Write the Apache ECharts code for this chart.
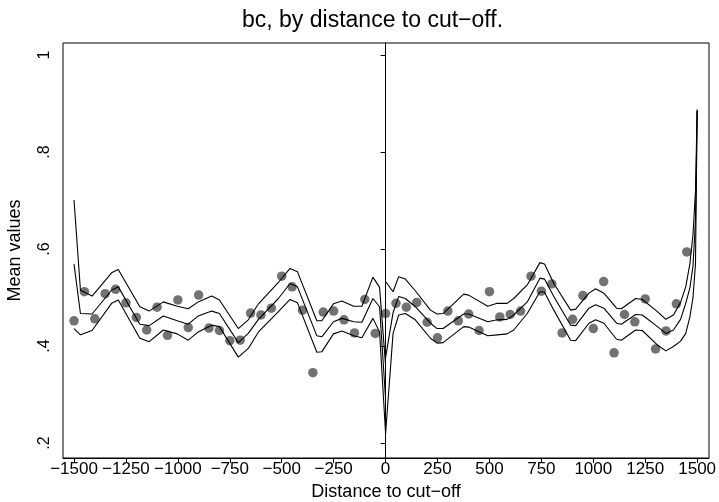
<!DOCTYPE html>
<html>
<head>
<meta charset="utf-8">
<script src="https://cdn.jsdelivr.net/npm/echarts@6/dist/echarts.min.js"></script>
<style>
html,body{margin:0;padding:0;background:#fff;}
#chart{width:719px;height:502px;}
</style>
</head>
<body>
<div id="chart"></div>
<script>
// ---- Data ----
const binX = [-1500,-1450,-1400,-1350,-1300,-1250,-1200,-1150,-1100,-1050,
  -1000,-950,-900,-850,-800,-750,-700,-650,-600,-550,
  -500,-450,-400,-350,-300,-250,-200,-150,-100,-50,
  0,
  50,100,150,200,250,300,350,400,450,500,
  550,600,650,700,750,800,850,900,950,1000,
  1050,1100,1150,1200,1250,1300,1350,1400,1450];
const binMeans = [0.452,0.512,0.456,0.508,0.517,0.489,0.459,0.433,0.480,0.422,
  0.495,0.438,0.505,0.437,0.432,0.411,0.412,0.468,0.464,0.478,
  0.544,0.522,0.474,0.345,0.470,0.472,0.454,0.427,0.496,0.426,
  0.467,
  0.488,0.480,0.490,0.449,0.417,0.472,0.452,0.466,0.432,0.512,
  0.460,0.465,0.472,0.544,0.513,0.528,0.427,0.455,0.504,0.436,
  0.533,0.386,0.465,0.450,0.497,0.394,0.431,0.487,0.594];

const fitXLeft = [-1500,-1469,-1413,-1319,-1287,-1183,-1138,-1070,-1003,-950,-902,-837,-800,-709,-661,-612,-516,-460,-424,-331,-307,-251,-210,-154,-114,-61,-29,0];
const upperLeft = [0.701,0.515,0.503,0.551,0.558,0.481,0.472,0.491,0.482,0.477,0.491,0.503,0.495,0.436,0.454,0.487,0.531,0.560,0.553,0.452,0.452,0.487,0.493,0.482,0.482,0.542,0.521,0.36];
const fitLeft = [0.569,0.467,0.466,0.515,0.522,0.445,0.442,0.462,0.452,0.445,0.462,0.472,0.467,0.407,0.426,0.455,0.498,0.529,0.522,0.421,0.419,0.450,0.457,0.450,0.449,0.498,0.481,0.29];
const lowerLeft = [0.436,0.423,0.432,0.488,0.495,0.416,0.409,0.433,0.425,0.412,0.429,0.443,0.440,0.377,0.395,0.429,0.471,0.496,0.489,0.387,0.388,0.425,0.431,0.421,0.417,0.457,0.429,0.22];

const fitXRight = [0,36,63,95,143,216,248,277,376,400,492,537,585,617,682,743,765,810,891,915,979,1011,1051,1112,1135,1204,1236,1309,1349,1386,1420,1445,1465,1480,1492,1500];
const upperRight = [0.533,0.512,0.543,0.538,0.514,0.474,0.466,0.467,0.507,0.505,0.482,0.488,0.488,0.498,0.526,0.572,0.569,0.529,0.474,0.476,0.509,0.518,0.509,0.478,0.477,0.498,0.496,0.471,0.455,0.464,0.49,0.522,0.57,0.63,0.72,0.888];
const fitRight = [0.376,0.469,0.502,0.498,0.481,0.447,0.436,0.436,0.466,0.466,0.450,0.454,0.455,0.464,0.491,0.540,0.538,0.502,0.443,0.442,0.478,0.485,0.478,0.447,0.445,0.465,0.464,0.440,0.426,0.433,0.455,0.488,0.52,0.565,0.66,0.886];
const lowerRight = [0.22,0.426,0.464,0.467,0.454,0.416,0.406,0.407,0.440,0.439,0.421,0.423,0.425,0.433,0.467,0.512,0.511,0.474,0.412,0.411,0.447,0.454,0.447,0.414,0.412,0.433,0.432,0.402,0.390,0.399,0.41,0.426,0.46,0.50,0.57,0.884];

const xTickValues = [-1500,-1250,-1000,-750,-500,-250,0,250,500,750,1000,1250,1500];
const xTickLabels = ['\u22121500','\u22121250','\u22121000','\u2212750','\u2212500','\u2212250','0','250','500','750','1000','1250','1500'];
const yTickValues = [0.2,0.4,0.6,0.8,1];
const yTickLabels = ['.2','.4','.6','.8','1'];
const cutoff = 0;

const titleText = 'bc, by distance to cut\u2212off.';
const xTitle = 'Distance to cut\u2212off';
const yTitle = 'Mean values';

// ---- Build ----
const zip = (xs, ys) => xs.map((x, i) => [x, ys[i]]);
const FONT = "'Liberation Sans', Arial, Helvetica, sans-serif";
const lineStyle = {color: '#000', width: 1.1};
function lineSeries(xs, ys) {
  return {type: 'line', data: zip(xs, ys), symbol: 'none', lineStyle: lineStyle, silent: true, z: 3, animation: false};
}

const chart = echarts.init(document.getElementById('chart'), null, {renderer: 'canvas'});
chart.setOption({
  animation: false,
  backgroundColor: '#fff',
  title: {
    text: titleText, left: 237, top: 4,
    textStyle: {fontFamily: FONT, fontSize: 23, fontWeight: 'normal', color: '#000'}
  },
  grid: {left: 63, right: 10, top: 43, bottom: 44, show: true, borderColor: '#000', borderWidth: 1,
         containLabel: false, outerBoundsMode: 'none'},
  xAxis: {
    type: 'value', min: -1553, max: 1557,
    name: xTitle, nameLocation: 'middle', nameGap: 25,
    nameTextStyle: {fontFamily: FONT, fontSize: 18, color: '#000'},
    axisLine: {show: true, lineStyle: {color: '#000', width: 1}},
    axisTick: {show: true, length: 5, inside: false, customValues: xTickValues, lineStyle: {color: '#000'}},
    axisLabel: {
      customValues: xTickValues, fontFamily: FONT, fontSize: 17, color: '#000', margin: 3,
      formatter: v => xTickLabels[xTickValues.indexOf(v)]
    },
    splitLine: {show: false}
  },
  yAxis: {
    type: 'value', min: 0.169, max: 1.025,
    name: yTitle, nameLocation: 'middle', nameGap: 39, nameRotate: 90,
    nameTextStyle: {fontFamily: FONT, fontSize: 18, color: '#000'},
    axisLine: {show: true, lineStyle: {color: '#000', width: 1}},
    axisTick: {show: true, length: 5, inside: false, customValues: yTickValues, lineStyle: {color: '#000'}},
    axisLabel: {
      customValues: yTickValues, rotate: 90, fontFamily: FONT, fontSize: 16, color: '#000', margin: 10,
      formatter: v => yTickLabels[yTickValues.findIndex(t => Math.abs(t - v) < 1e-9)]
    },
    splitLine: {show: false}
  },
  series: [
    {
      type: 'scatter', data: zip(binX, binMeans), symbol: 'circle', symbolSize: 9.5,
      itemStyle: {color: '#4f4f4f'}, z: 2, silent: true,
      markLine: {
        silent: true, symbol: 'none', label: {show: false},
        lineStyle: {color: '#000', width: 1, type: 'solid'},
        data: [{xAxis: cutoff}]
      }
    },
    lineSeries(fitXLeft, upperLeft),
    lineSeries(fitXLeft, fitLeft),
    lineSeries(fitXLeft, lowerLeft),
    lineSeries(fitXRight, upperRight),
    lineSeries(fitXRight, fitRight),
    lineSeries(fitXRight, lowerRight)
  ]
});
</script>
</body>
</html>
